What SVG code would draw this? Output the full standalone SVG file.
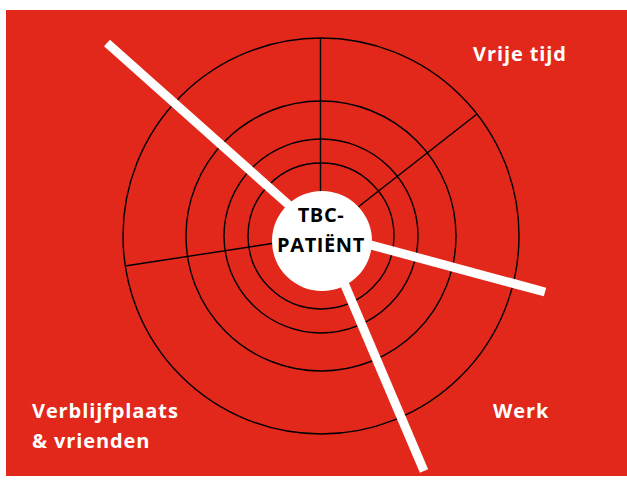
<svg xmlns="http://www.w3.org/2000/svg" width="627" height="483" viewBox="0 0 627 483">
  <style>
    .ring { fill: none; stroke: #000; stroke-width: 1.4; }
    .spoke { stroke: #000; stroke-width: 1.4; }
    .bar { stroke: #fff; stroke-width: 9; stroke-linecap: butt; }
    .label { font-family: "Open Sans", "Liberation Sans", sans-serif; font-weight: 700; font-size: 20px; fill: #fff; letter-spacing: 0.9px; }
    .core { font-family: "Open Sans", "Liberation Sans", sans-serif; font-weight: 700; font-size: 20px; fill: #000; text-anchor: middle; letter-spacing: 0.6px; }
  </style>
  <rect x="0" y="0" width="627" height="483" fill="#fff"/>
  <rect x="6" y="10" width="621" height="466" fill="#E2271B"/>

  <!-- concentric rings and dividing spokes -->
  <g id="rings">
    <circle class="ring" cx="321" cy="236" r="198"/>
    <circle class="ring" cx="321" cy="236" r="135"/>
    <circle class="ring" cx="321" cy="236" r="97"/>
    <circle class="ring" cx="321" cy="236" r="73"/>
    <line class="spoke" x1="320.5" y1="38" x2="320.5" y2="236"/>
    <line class="spoke" x1="321" y1="236" x2="477" y2="114"/>
    <line class="spoke" x1="321" y1="236" x2="125" y2="266"/>
  </g>

  <!-- white bars radiating from the centre -->
  <g id="connectors">
    <line class="bar" x1="107" y1="43" x2="300" y2="215"/>
    <line class="bar" x1="345" y1="238" x2="545" y2="292"/>
    <line class="bar" x1="330" y1="250" x2="424" y2="471"/>
  </g>

  <g id="centre">
    <circle cx="322" cy="241" r="50" fill="#fff"/>
    <text class="core" x="321" y="222">TBC-</text>
    <text class="core" x="321" y="252">PATIËNT</text>
  </g>

  <g id="vrije-tijd">
    <text class="label" x="473" y="61">Vrije tijd</text>
  </g>
  <g id="werk">
    <text class="label" x="493" y="418">Werk</text>
  </g>
  <g id="verblijfplaats">
    <text class="label" x="32" y="418">Verblijfplaats</text>
    <text class="label" x="32" y="448">&amp; vrienden</text>
  </g>
</svg>
